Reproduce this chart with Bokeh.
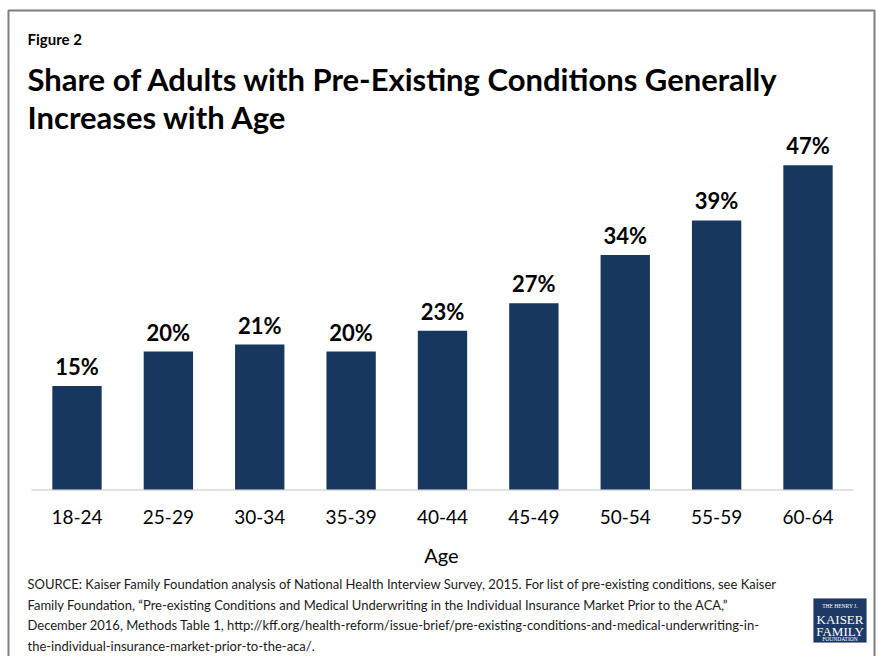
from bokeh.plotting import figure
from bokeh.models import ColumnDataSource, Range1d, LabelSet
from bokeh.core.properties import value
from bokeh.embed import file_html
from bokeh.resources import INLINE

# ---- data -------------------------------------------------------------
ages = ["18-24", "25-29", "30-34", "35-39", "40-44", "45-49", "50-54", "55-59", "60-64"]
shares = [15, 20, 21, 20, 23, 27, 34, 39, 47]
share_labels = [f"{v}%" for v in shares]

figure_tag = "Figure 2"
title_lines = [
    "Share of Adults with Pre-Existing Conditions Generally",
    "Increases with Age",
]
axis_title = "Age"
source_lines = [
    "SOURCE: Kaiser Family Foundation  analysis of National Health Interview Survey, 2015. For list of pre-existing conditions, see Kaiser",
    "Family Foundation, \u201cPre-existing Conditions and Medical Underwriting  in the Individual Insurance Market Prior to the ACA,\u201d",
    "December  2016, Methods Table 1, http://kff.org/health-reform/issue-brief/pre-existing-conditions-and-medical-underwriting-in-",
    "the-individual-insurance-market-prior-to-the-aca/.",
]
logo_lines = ["THE HENRY J.", "KAISER", "FAMILY", "FOUNDATION"]

# ---- layout constants (pixels) ---------------------------------------
W, H = 878, 656
LEFT = 6            # frame starts here; default ranges are in page pixels
BASE_Y = 489        # bar baseline
PX_PER_PCT = 6.9    # vertical scale of the bars
SLOT = 91.375       # width of one age category
FIRST_CENTER = 76.5

BAR_COLOR = "#17375e"
FONT = value("Lato")

# one slot per age group, centred on i + 0.5
slot_x = [i + 0.5 for i in range(len(ages))]
src = ColumnDataSource(dict(x=slot_x, age=ages, share=shares, label=share_labels))

p = figure(
    width=W, height=H,
    x_range=Range1d(LEFT, W), y_range=Range1d(H, 0),
    x_axis_type=None, y_axis_type=None,
    toolbar_location=None, output_backend="svg",
    min_border_left=LEFT, min_border_right=0, min_border_top=0, min_border_bottom=0,
    outline_line_color=None,
    background_fill_color="white", border_fill_color="white",
)

slot_start = -(FIRST_CENTER - LEFT) / SLOT + 0.5
p.extra_x_ranges = {"age": Range1d(slot_start, slot_start + (W - LEFT) / SLOT)}
p.extra_y_ranges = {"pct": Range1d(-(H - BASE_Y) / PX_PER_PCT, BASE_Y / PX_PER_PCT)}

# outer frame of the figure panel (bottom edge runs off the page)
p.line(x=[8, 8, 874, 874], y=[700, 10, 10, 700], line_color="#7f7f7f", line_width=2)

# baseline of the bars
p.segment(x0=[31], y0=[BASE_Y + 0.5], x1=[853], y1=[BASE_Y + 0.5],
          line_color="#d9d9d9", line_width=1.5)

# bars
p.vbar(x="x", top="share", bottom=0, width=0.54, source=src,
       x_range_name="age", y_range_name="pct",
       fill_color=BAR_COLOR, line_color=None)

# value labels above bars
p.add_layout(LabelSet(
    x="x", y="share", text="label", source=src,
    x_range_name="age", y_range_name="pct",
    y_offset=11, text_align="center", text_baseline="alphabetic",
    text_font=FONT, text_font_style="bold", text_font_size="22px",
    text_color="#000000",
))

# category labels
p.text(x="x", y=516, text="age", source=src, x_range_name="age",
       text_align="center", text_baseline="alphabetic",
       text_font=FONT, text_font_size="19px", text_color="#000000")

# axis title
p.text(x=[441], y=[554], text=[axis_title], text_align="center",
       text_baseline="alphabetic", text_font=FONT, text_font_size="20px",
       text_color="#000000")

# figure tag and title
p.text(x=[27], y=[38], text=[figure_tag], text_baseline="alphabetic",
       text_font=FONT, text_font_style="bold", text_font_size="15px",
       text_color="#000000")
p.text(x=[27, 27], y=[78, 116], text=title_lines, text_baseline="alphabetic",
       text_font=FONT, text_font_style="bold", text_font_size="31px",
       text_color="#000000")

# source note
p.text(x=[27] * 4, y=[583.5, 604, 624.5, 645], text=source_lines,
       text_baseline="alphabetic", text_font=FONT, text_font_size="13px",
       text_color="#1a1a1a")

# foundation logo
p.quad(left=[813], right=[866], top=[598], bottom=[642],
       fill_color="#1d3a66", line_color="#6d82a3", line_width=0.5)
logo_x = 839.5
p.text(x=[logo_x] * 4, y=[605, 618.5, 630.5, 638.5], text=logo_lines,
       text_align="center", text_baseline="alphabetic",
       text_font=value("Liberation Serif"),
       text_font_size=["5.5px", "13px", "13px", "5.5px"],
       text_color="white")

open("out.html", "w").write(file_html(p, INLINE))
